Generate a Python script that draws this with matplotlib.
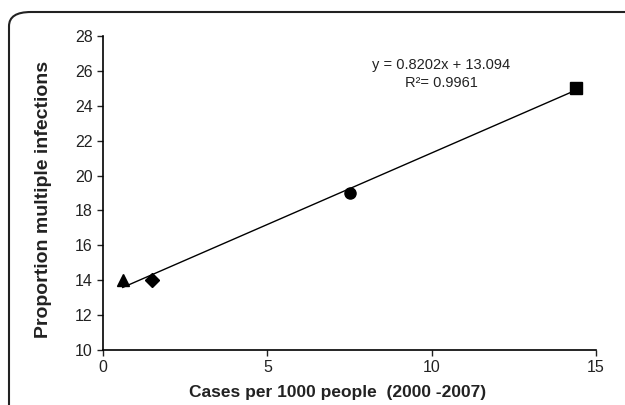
import matplotlib
matplotlib.use("Agg")
import matplotlib.pyplot as plt
from matplotlib.patches import FancyBboxPatch

plt.rcParams['font.family'] = ['Liberation Sans', 'DejaVu Sans']

# data points (one marker per group)
cases = [0.6, 1.5, 7.5, 14.4]
proportion = [14, 14, 19, 25]
markers = ['^', 'D', 'o', 's']
sizes = [9, 7, 8, 8]

# linear fit shown on the chart
slope, intercept = 0.8202, 13.094
fit_x = [0.6, 14.4]

W, H = 625, 405
fig = plt.figure(figsize=(W / 100, H / 100), dpi=100)

# rounded frame around the figure (open at right/bottom)
frame = FancyBboxPatch((9 / W, -0.2), 1.2, 1 - 12 / H + 0.2,
                       boxstyle="round,pad=0,rounding_size=0.035",
                       transform=fig.transFigure, fc='none', ec='#222222',
                       lw=1.5, clip_on=False)
fig.patches.append(frame)

ax = fig.add_axes([103 / W, 1 - 350 / H, (596 - 103) / W, (350 - 36) / H])

ax.plot(fit_x, [slope * x + intercept for x in fit_x], color='black', lw=1.0)
for x, y, m, s in zip(cases, proportion, markers, sizes):
    ax.plot(x, y, marker=m, color='black', markersize=s, ls='none')

ax.set_xlim(0, 15)
ax.set_ylim(10, 28)
ax.set_xticks([0, 5, 10, 15])
ax.set_yticks(range(10, 29, 2))
ax.spines['top'].set_visible(False)
ax.spines['right'].set_visible(False)
for sp in ['left', 'bottom']:
    ax.spines[sp].set_linewidth(1.2)
ax.tick_params(labelsize=11.5, length=4, width=1.0, color='#222222',
               labelcolor='#222222')

fig.text(338 / W, 1 - 393 / H, "Cases per 1000 people  (2000 -2007)",
         ha='center', va='center', fontsize=12.5, fontweight='bold',
         color='#222222')
fig.text(44 / W, 1 - 199 / H, "Proportion multiple infections",
         ha='center', va='center', rotation=90, fontsize=14, fontweight='bold',
         color='#222222')

fig.text(441 / W, 1 - 65 / H, "y = 0.8202x + 13.094", ha='center', va='center',
         fontsize=10.5, color='#222222')
fig.text(441 / W, 1 - 83 / H, "R²= 0.9961", ha='center', va='center',
         fontsize=10.5, color='#222222')

fig.savefig("out.png", dpi=100)
